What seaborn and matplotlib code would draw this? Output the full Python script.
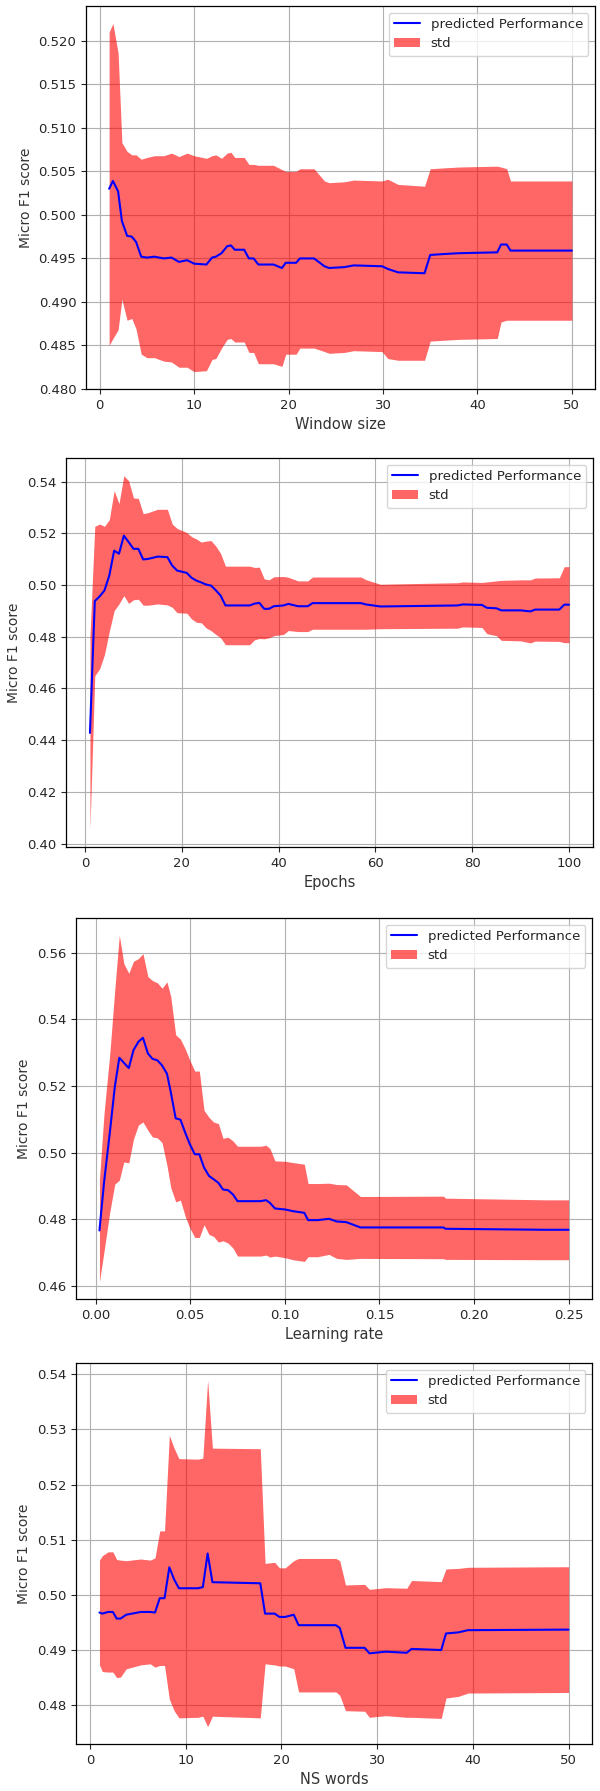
import numpy as np
import matplotlib
matplotlib.use("Agg")
import matplotlib.pyplot as plt
import seaborn as sns

# ---- Window size sweep ----
win_x = [1.0, 1.4, 1.95, 2.35, 2.9, 3.4, 3.85, 4.4, 5.0, 5.8,
         6.8, 7.6, 8.4, 9.25, 10.0, 11.3, 11.9, 12.3, 12.9, 13.5,
         13.9, 14.3, 15.3, 15.8, 16.3, 16.8, 18.4, 19.3, 19.7, 20.8,
         21.2, 22.7, 23.8, 24.3, 25.9, 26.9, 29.9, 30.5, 31.6, 34.4,
         35.0, 36.4, 38.0, 42.1, 42.5, 43.1, 43.5, 50.0]
win_mean = [.5030, .5039, .5027, .4993, .4976, .4975, .4969, .4952, .4951, .4952,
            .4950, .4951, .4946, .4948, .4944, .4943, .4951, .4952, .4956, .4964,
            .4965, .4960, .4960, .4950, .4950, .4943, .4943, .4939, .4945, .4945,
            .4950, .4950, .4941, .4939, .4940, .4942, .4941, .4938, .4934, .4933,
            .4954, .4955, .4956, .4957, .4966, .4966, .4959, .4959]
win_std = [.0180, .0181, .0159, .0090, .0097, .0094, .0100, .0112, .0115, .0116,
           .0118, .0120, .0121, .0123, .0124, .0122, .0117, .0117, .0109, .0107,
           .0107, .0106, .0106, .0108, .0108, .0114, .0114, .0113, .0105, .0105,
           .0103, .0103, .0098, .0098, .0098, .0098, .0098, .0103, .0101, .0100,
           .0099, .0099, .0099, .0099, .0089, .0087, .0080, .0080]

# ---- Epochs sweep ----
ep_x = [1, 2, 3, 4, 5, 6, 7, 8, 9, 10, 11, 12, 13,
        15, 17, 18, 19, 21, 22, 23, 24, 25, 26, 27, 28, 29,
        34, 35, 36, 37, 38, 39, 41, 42, 44, 46,
        47, 57, 58, 61, 77, 78, 82, 83, 85, 86,
        90, 92, 93, 98, 99, 100]
ep_mean = [.4428, .4938, .4956, .4979, .5037, .5133, .5121, .5191, .5166, .5140,
           .5140, .5099, .5101,
           .5110, .5108, .5075, .5056, .5047, .5028, .5017, .5010, .5002, .4998,
           .4980, .4959, .4921,
           .4921, .4928, .4931, .4908, .4908, .4918, .4921, .4927, .4918, .4918,
           .4930, .4930, .4925, .4917, .4921, .4925, .4923, .4912, .4910, .4902,
           .4902, .4898, .4905, .4905, .4924, .4924]
ep_std = [.0373, .0289, .0280, .0248, .0216, .0232, .0194, .0232, .0237, .0197,
          .0195, .0177, .0179,
          .0183, .0185, .0161, .0163, .0156, .0159, .0161, .0156, .0168, .0174,
          .0171, .0163, .0152,
          .0152, .0140, .0138, .0116, .0112, .0114, .0112, .0103, .0098, .0098,
          .0101, .0101, .0096, .0086, .0088, .0087, .0087, .0100, .0106, .0116,
          .0118, .0122, .0122, .0123, .0147, .0147]

# ---- Learning rate sweep ----
lr_x = [.002, .0044, .0075, .0101, .0125, .0149, .0175, .020, .0226, .025,
        .0276, .030, .0327, .0351, .0377, .0397, .0423, .0448, .0474, .0498,
        .0524, .0548, .0573, .0599, .0623, .0649, .0673, .070, .0726, .075,
        .0871, .0901, .0921, .0948, .1002, .1042, .1103, .1123, .1173, .1234,
        .1274, .1325, .140, .1839, .1849, .2373, .25]
lr_mean = [.4766, .4909, .5061, .5197, .5285, .5270, .5254, .5308, .5333, .5345,
           .5298, .5282, .5277, .5262, .5237, .5182, .5103, .5099, .5059, .5025,
           .4995, .4995, .4955, .4930, .4920, .4909, .4889, .4887, .4874, .4854,
           .4854, .4857, .4849, .4832, .4829, .4824, .4819, .4797, .4797, .4801,
           .4793, .4791, .4775, .4775, .4771, .4768, .4768]
lr_std = [.0154, .0207, .0238, .0292, .0368, .0298, .0285, .0267, .0250, .0253,
          .0231, .0235, .0233, .0232, .0276, .0287, .0251, .0242, .0252, .0252,
          .0250, .0250, .0172, .0176, .0172, .0178, .0154, .0159, .0161, .0165,
          .0165, .0165, .0163, .0143, .0145, .0146, .0146, .0110, .0110, .0107,
          .0111, .0112, .0093, .0094, .0092, .0090, .0090]

# ---- Negative-sampling words sweep ----
ns_x = [1.0, 1.3, 1.9, 2.4, 2.8, 3.2, 3.8, 5.3, 6.3, 6.8,
        7.3, 7.8, 8.3, 8.8, 9.3, 11.3, 11.8, 12.3, 12.8, 17.8,
        18.3, 19.3, 19.8, 20.4, 21.3, 21.8, 25.7, 26.1, 26.7, 28.7,
        29.2, 30.9, 33.1, 33.6, 36.7, 37.2, 38.5, 39.5, 50.0]
ns_mean = [.4968, .4966, .4969, .4969, .4957, .4957, .4964, .4969, .4969, .4968,
           .4994, .4994, .5050, .5028, .5012, .5012, .5014, .5075, .5023, .5021,
           .4966, .4966, .4960, .4960, .4964, .4945, .4945, .4940, .4904, .4904,
           .4894, .4897, .4895, .4902, .4900, .4930, .4932, .4936, .4937]
ns_std = [.0095, .0105, .0109, .0109, .0107, .0106, .0098, .0096, .0094, .0099,
          .0122, .0122, .0239, .0238, .0235, .0234, .0234, .0314, .0243, .0244,
          .0091, .0093, .0089, .0089, .0098, .0121, .0121, .0122, .0114, .0115,
          .0116, .0116, .0117, .0124, .0124, .0117, .0116, .0114, .0114]

x_labels = ["Window size", "Epochs", "Learning rate", "NS words"]
y_label = "Micro F1 score"

sns.set_style("ticks")
plt.rcParams["font.family"] = ["DejaVu Sans"]
plt.rcParams["font.size"] = 9.5
plt.rcParams["xtick.labelsize"] = 9.5
plt.rcParams["ytick.labelsize"] = 9.5
plt.rcParams["xtick.major.size"] = 3.5
plt.rcParams["ytick.major.size"] = 3.5
plt.rcParams["axes.edgecolor"] = "black"
plt.rcParams["axes.linewidth"] = 0.9

W, H = 600, 1791
fig = plt.figure(figsize=(W / 100, H / 100), dpi=100)

# panel boxes in pixels: left, top, right, bottom
boxes = [(86, 6, 595, 389),
         (66, 458, 593, 847),
         (76, 918, 592, 1299),
         (76, 1363, 592, 1744)]

series = [(win_x, win_mean, win_std),
          (ep_x, ep_mean, ep_std),
          (lr_x, lr_mean, lr_std),
          (ns_x, ns_mean, ns_std)]

for (l, t, r, b), (xs, mean, std), xl in zip(boxes, series, x_labels):
    ax = fig.add_axes([l / W, 1 - b / H, (r - l) / W, (b - t) / H])
    xs = np.asarray(xs, dtype=float)
    mean = np.asarray(mean)
    std = np.asarray(std)
    sns.lineplot(x=xs, y=mean, ax=ax, color="blue", linewidth=1.5,
                 label="predicted Performance", zorder=3)
    ax.fill_between(xs, mean - std, mean + std, color="red", alpha=0.6,
                    linewidth=0, label="std", zorder=2)
    ax.grid(True, color="#b0b0b0", linewidth=0.8)
    ax.set_axisbelow(True)
    ax.set_xlabel(xl, fontsize=10.5, color="#333333")
    ax.set_ylabel(y_label, fontsize=10, color="#333333")
    ax.legend(loc="upper right", fontsize=9.5)
    for s in ax.spines.values():
        s.set_visible(True)
        s.set_color("black")

fig.savefig("out.png", dpi=100)
